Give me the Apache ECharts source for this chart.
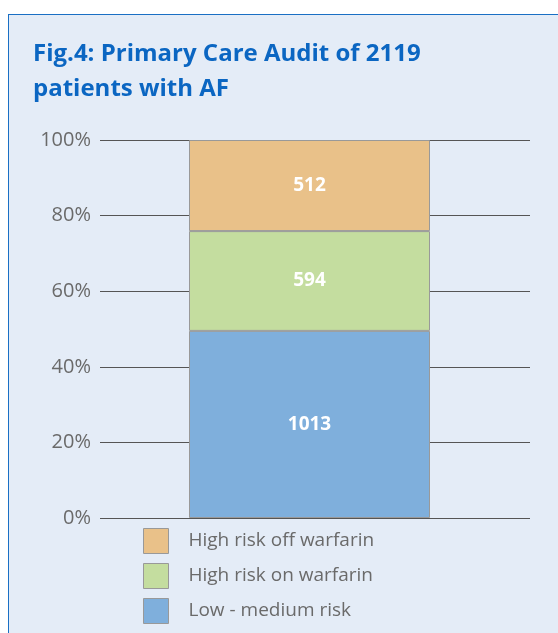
<!DOCTYPE html>
<html>
<head>
<meta charset="utf-8">
<script src="https://cdn.jsdelivr.net/npm/echarts@6/dist/echarts.min.js"></script>
<style>
  html, body { margin: 0; padding: 0; background: #fff; }
  #panel {
    position: absolute; left: 8px; top: 14px; width: 550px; height: 619px;
    background: #e4ecf7; border-top: 1px solid #1a6fc4; border-left: 1px solid #1a6fc4;
  }
  #chart { position: absolute; left: 0; top: 0; width: 558px; height: 633px; }
</style>
</head>
<body>
<div id="panel"></div>
<div id="chart"></div>
<script>
// one bar, three groups of patients
const categories = ['AF patients'];
const seriesNames = ['Low - medium risk', 'High risk on warfarin', 'High risk off warfarin'];
// patient counts shown in the labels
const counts = [1013, 594, 512];
// bar heights (% of patients)
const shares = [49.5, 26.4, 24.1];
const colors = ['#7fafdc', '#c4dd9f', '#e9c189'];
const tickLabels = ['0%', '20%', '40%', '60%', '80%', '100%'];

const chart = echarts.init(document.getElementById('chart'));

const series = seriesNames.map((name, i) => {
  return {
    name: name,
    type: 'bar',
    stack: 'all',
    xAxisIndex: 1,
    yAxisIndex: 1,
    barWidth: 241,
    data: [shares[i]],
    itemStyle: { color: colors[i], borderColor: '#999', borderWidth: 1 },
    label: {
      show: true,
      position: 'inside',
      formatter: () => String(counts[i]),
      color: '#fff',
      fontSize: 19,
      fontWeight: 'bold',
      fontFamily: 'Open Sans'
    }
  };
});

chart.setOption({
  animation: false,
  title: {
    text: 'Fig.4: Primary Care Audit of 2119\npatients with AF',
    left: 28,
    top: 32,
    textStyle: {
      color: '#0b66c2',
      fontSize: 24,
      fontWeight: 'bold',
      fontFamily: 'Open Sans',
      lineHeight: 35
    }
  },
  legend: {
    data: seriesNames.slice().reverse(),
    orient: 'vertical',
    left: 138,
    top: 523,
    height: 120,
    itemWidth: 25,
    itemHeight: 25,
    itemGap: 9,
    icon: 'rect',
    selectedMode: false,
    textStyle: { color: '#6a6a6a', fontSize: 19, fontFamily: 'Open Sans', padding: [0, 0, 0, 15] },
    itemStyle: { borderColor: '#999', borderWidth: 1 }
  },
  // grid 0 carries the ticks and lines, grid 1 the bar (slightly left of the lines' centre)
  grid: [
    { left: 100, right: 28, top: 140, bottom: 115 },
    { left: 89, right: 28, top: 140, bottom: 115 }
  ],
  xAxis: [
    { type: 'category', gridIndex: 0, data: categories, show: false },
    { type: 'category', gridIndex: 1, data: categories, show: false }
  ],
  yAxis: [
    {
      type: 'value',
      gridIndex: 0,
      min: 0,
      max: 100,
      interval: 20,
      axisLine: { show: false },
      axisTick: { show: false },
      axisLabel: {
        formatter: (v) => tickLabels[v / 20],
        color: '#6a6a6a',
        fontSize: 20,
        fontFamily: 'Open Sans',
        margin: 9
      },
      splitLine: { lineStyle: { color: '#555', width: 1 } }
    },
    { type: 'value', gridIndex: 1, min: 0, max: 100, show: false, splitLine: { show: false } }
  ],
  series: series
});
</script>
</body>
</html>
